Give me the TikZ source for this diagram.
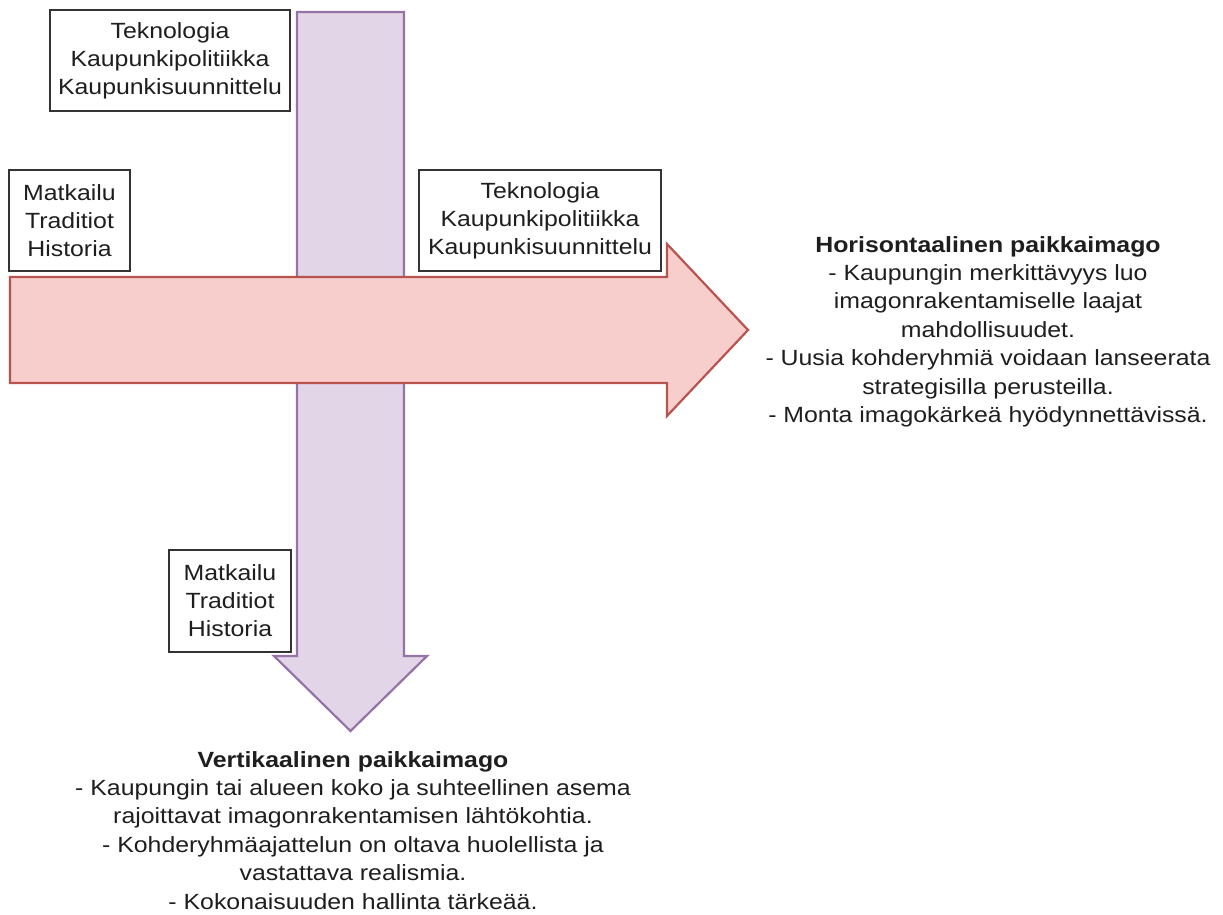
\documentclass[tikz,border=0pt]{standalone}
\usepackage{fontspec}
\setmainfont[FakeStretch=1.13]{Liberation Sans}
\definecolor{purpfill}{HTML}{E1D5E7}
\definecolor{purpline}{HTML}{9673A6}
\definecolor{redfill}{HTML}{F8CECC}
\definecolor{redline}{HTML}{B85450}
\definecolor{txt}{HTML}{1E1E1E}
\begin{document}
\begin{tikzpicture}[x=1pt,y=-1pt,
  factorbox/.style={draw=black!80, line width=1.3pt, fill=white, inner sep=0pt, align=center,
    font=\fontsize{22}{28}\selectfont, text=txt},
  desc/.style={align=center, inner sep=0pt, font=\fontsize{22}{28.4}\selectfont, text=txt}]
\useasboundingbox (0,0) rectangle (1223,914);
% vertical arrow
\draw[draw=purpline, fill=purpfill, line width=2.2pt, line join=miter]
  (297,12) -- (404,12) -- (404,656) -- (427,656) -- (350.5,731) -- (274,656) -- (297,656) -- cycle;
% horizontal arrow
\draw[draw=redline, fill=redfill, line width=2.2pt, line join=miter]
  (10,277) -- (667,277) -- (667,244) -- (748,330) -- (667,416) -- (667,383) -- (10,383) -- cycle;
% boxes
\node[factorbox, minimum width=240pt, minimum height=101pt] (b1) at (170,60.5)
  {Teknologia\\Kaupunkipolitiikka\\Kaupunkisuunnittelu};
\node[factorbox, minimum width=121pt, minimum height=101pt] (b2) at (69.5,220.5)
  {Matkailu\\Traditiot\\Historia};
\node[factorbox, minimum width=242pt, minimum height=101pt] (b3) at (540,220.5)
  {Teknologia\\Kaupunkipolitiikka\\Kaupunkisuunnittelu};
\node[factorbox, minimum width=122pt, minimum height=102pt] (b4) at (230,601)
  {Matkailu\\Traditiot\\Historia};
% descriptions
\node[desc, anchor=north] (h) at (988,236)
  {\textbf{Horisontaalinen paikkaimago}\\- Kaupungin merkittävyys luo\\imagonrakentamiselle laajat\\mahdollisuudet.\\- Uusia kohderyhmiä voidaan lanseerata\\strategisilla perusteilla.\\- Monta imagokärkeä hyödynnettävissä.};
\node[desc, anchor=north] (v) at (353,751)
  {\textbf{Vertikaalinen paikkaimago}\\- Kaupungin tai alueen koko ja suhteellinen asema\\rajoittavat imagonrakentamisen lähtökohtia.\\- Kohderyhmäajattelun on oltava huolellista ja\\vastattava realismia.\\- Kokonaisuuden hallinta tärkeää.};
\end{tikzpicture}
\end{document}
